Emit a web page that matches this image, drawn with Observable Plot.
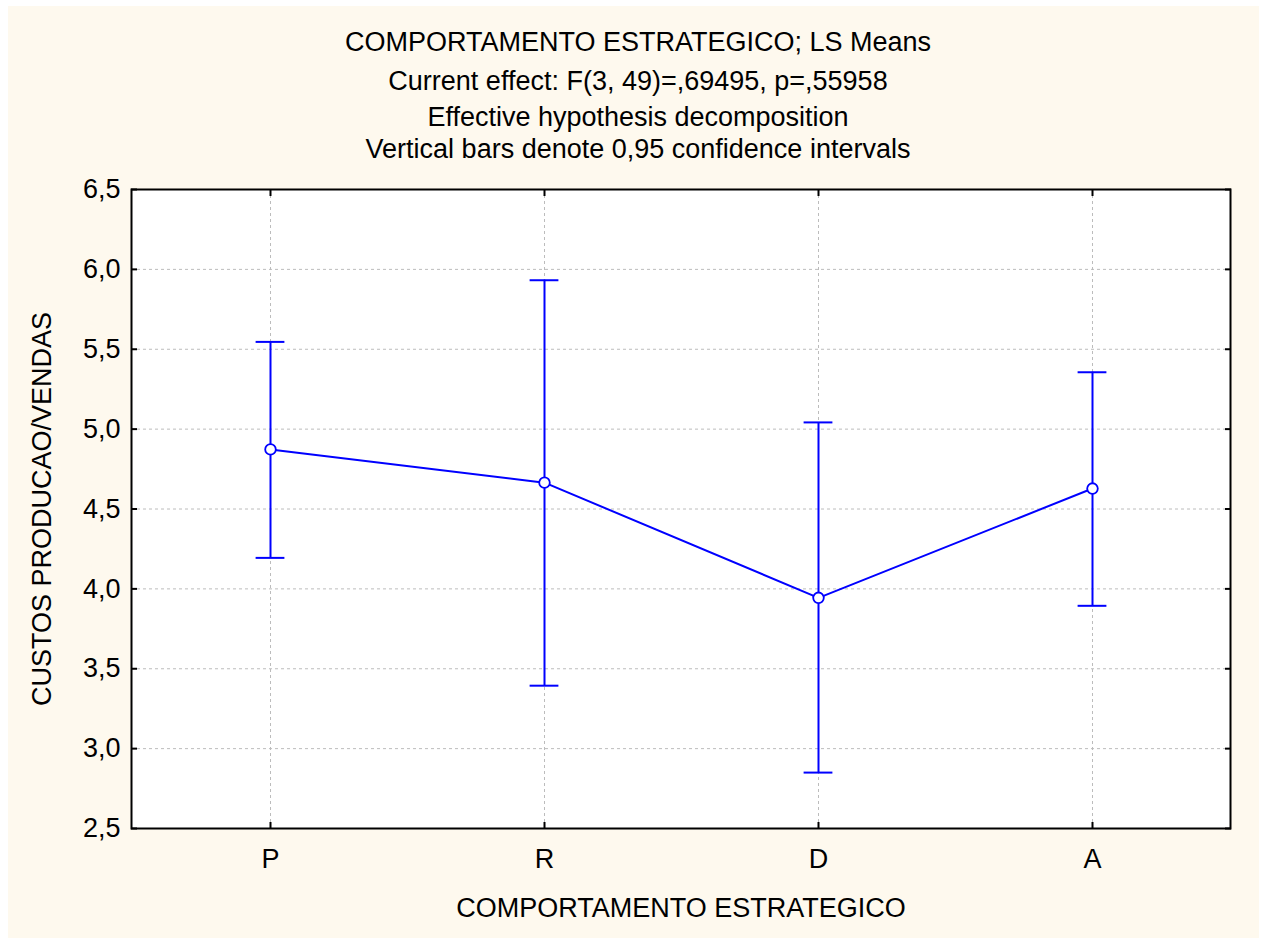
<!DOCTYPE html>
<html>
<head>
<meta charset="utf-8">
<script src="https://cdn.jsdelivr.net/npm/d3@7"></script>
<script src="https://cdn.jsdelivr.net/npm/@observablehq/plot@0.6"></script>
<style>
  body { margin: 0; background: #ffffff; }
  #page { position: relative; width: 1266px; height: 938px; font-family: "Liberation Sans", Arial, sans-serif; color: #000; }
  #panel { position: absolute; left: 8px; top: 6px; width: 1251px; height: 932px; background: #fef9ee; }
  .t { position: absolute; left: 0; width: 1276px; text-align: center; font-size: 27px; line-height: 27px; white-space: nowrap; }
  #chart { position: absolute; left: 0; top: 0; }
</style>
</head>
<body>
<div id="page">
  <div id="panel"></div>
  <div class="t" style="top:29px">COMPORTAMENTO ESTRATEGICO; LS Means</div>
  <div class="t" style="top:68px">Current effect: F(3, 49)=,69495, p=,55958</div>
  <div class="t" style="top:104px">Effective hypothesis decomposition</div>
  <div class="t" style="top:136px">Vertical bars denote 0,95 confidence intervals</div>
  <div id="chart"></div>
</div>
<script>
// Groups of strategic behaviour and their least-squares means with 95% CIs
const categories = ["P", "R", "D", "A"];
const means = [4.873, 4.665, 3.944, 4.628];
const lower = [4.194, 3.394, 2.850, 3.894];
const upper = [5.546, 5.932, 5.042, 5.356];
const yTicks = [2.5, 3.0, 3.5, 4.0, 4.5, 5.0, 5.5, 6.0, 6.5];

const rows = categories.map((c, i) => ({group: c, mean: means[i], lo: lower[i], hi: upper[i]}));
const fmt = (d) => d.toFixed(1).replace(".", ",");
const blue = "#0000ff";
const font = "Liberation Sans, Arial, sans-serif";
const capInset = 122.6; // leaves a ~29px cap centred in each band

const chart = Plot.plot({
  width: 1266,
  height: 938,
  marginLeft: 131,
  marginRight: 36,
  marginTop: 189,
  marginBottom: 110,
  style: {background: "transparent", fontFamily: font, fontSize: "27px", color: "#000"},
  x: {type: "band", domain: categories, padding: 0, label: null},
  y: {domain: [2.5, 6.5], label: null},
  marks: [
    Plot.frame({fill: "white", stroke: null}),
    Plot.gridX(categories, {stroke: "#bcbcbc", strokeOpacity: 1, strokeDasharray: "3,3"}),
    Plot.gridY(yTicks, {stroke: "#bcbcbc", strokeOpacity: 1, strokeDasharray: "3,3"}),
    Plot.ruleX(rows, {x: "group", y1: "lo", y2: "hi", stroke: blue, strokeWidth: 2}),
    Plot.tickY(rows, {x: "group", y: "hi", insetLeft: capInset, insetRight: capInset, stroke: blue, strokeWidth: 2}),
    Plot.tickY(rows, {x: "group", y: "lo", insetLeft: capInset, insetRight: capInset, stroke: blue, strokeWidth: 2}),
    Plot.line(rows, {x: "group", y: "mean", stroke: blue, strokeWidth: 2}),
    Plot.dot(rows, {x: "group", y: "mean", r: 5.3, fill: "white", stroke: blue, strokeWidth: 1.8}),
    Plot.axisY(yTicks, {anchor: "left", tickSize: 0, tickPadding: 11, tickFormat: fmt, fontSize: 27,
      label: "CUSTOS PRODUCAO/VENDAS", labelAnchor: "center", labelArrow: "none", labelOffset: 100}),
    Plot.axisY(yTicks, {anchor: "left", tickSize: -6, text: null, label: null, strokeWidth: 2}),
    Plot.axisY(yTicks, {anchor: "right", tickSize: -6, text: null, label: null, strokeWidth: 2}),
    Plot.axisX(categories, {anchor: "bottom", tickSize: 0, tickPadding: 20, fontSize: 27,
      label: "COMPORTAMENTO ESTRATEGICO", labelAnchor: "center", labelArrow: "none", labelOffset: 88}),
    Plot.axisX(categories, {anchor: "bottom", tickSize: -6, text: null, label: null, strokeWidth: 2}),
    Plot.axisX(categories, {anchor: "top", tickSize: -6, text: null, label: null, strokeWidth: 2}),
    Plot.frame({stroke: "#000", strokeWidth: 2})
  ]
});
document.getElementById("chart").appendChild(chart);
</script>
</body>
</html>
